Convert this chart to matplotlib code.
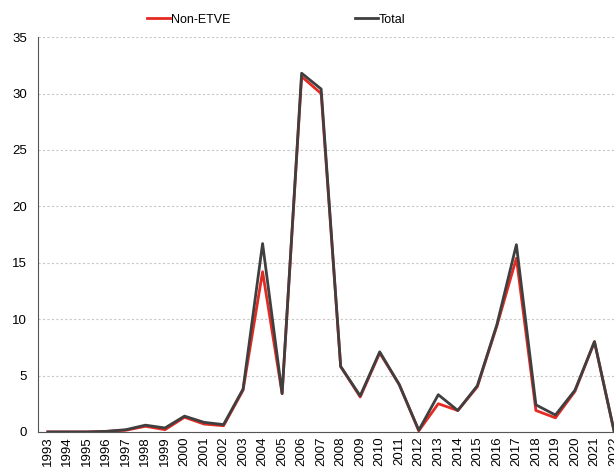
import numpy as np
import matplotlib.pyplot as plt

plt.rcParams['font.family'] = ['Liberation Sans', 'DejaVu Sans']

years = list(range(1993, 2023))
total = [0, 0, 0, 0.05, 0.2, 0.6, 0.35, 1.4, 0.85, 0.65,
         3.8, 16.7, 3.4, 31.8, 30.4, 5.8, 3.2, 7.1, 4.2, 0.15,
         3.3, 1.9, 4.1, 9.5, 16.6, 2.4, 1.5, 3.7, 8.0, 0.1]
non_etve = [0, 0, 0, 0.05, 0.15, 0.5, 0.2, 1.3, 0.7, 0.55,
            3.7, 14.2, 3.4, 31.5, 30.0, 5.8, 3.1, 7.0, 4.2, 0.1,
            2.5, 1.9, 4.0, 9.4, 15.4, 1.9, 1.25, 3.6, 8.0, 0.1]

fig = plt.figure(figsize=(6.14, 4.70), dpi=100)
ax = fig.add_axes([0.062, 0.081, 0.938, 0.840])

ax.plot(years, non_etve, color='#e32b24', lw=2.0, label='Non-ETVE')
ax.plot(years, total, color='#3f3f3f', lw=2.0, label='Total')

ax.set_xlim(1992.5, 2022)
ax.set_ylim(0, 35)
ax.set_yticks(np.arange(0, 36, 5))
ax.set_xticks(years)
ax.set_xticklabels([str(y) for y in years], rotation=90, fontsize=9.5)
ax.tick_params(axis='y', labelsize=9.5, length=0, pad=8)
ax.tick_params(axis='x', length=0, pad=3)

ax.grid(axis='y', color='#c8c8c8', linestyle=(0, (2, 2)), lw=0.8)
ax.set_axisbelow(True)
for s in ['top', 'right']:
    ax.spines[s].set_visible(False)
ax.spines['left'].set_color('#555555')
ax.spines['bottom'].set_color('#555555')

fig.legend(loc='upper center', bbox_to_anchor=(0.45, 0.995), ncol=2,
           frameon=False, fontsize=9, handlelength=1.8, handletextpad=0.1,
           columnspacing=10)

fig.savefig('out.png', dpi=100)
